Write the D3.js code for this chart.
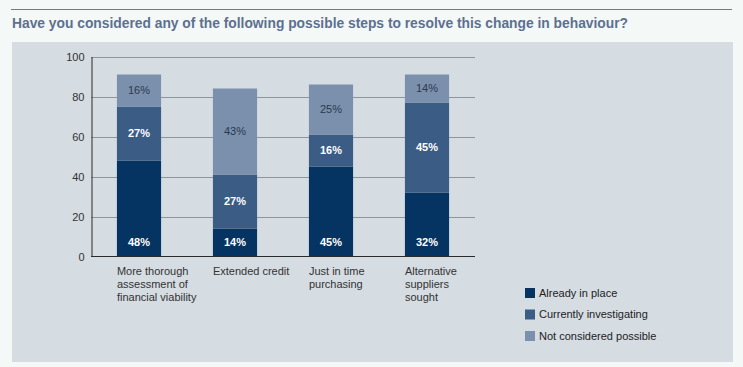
<!DOCTYPE html>
<html><head><meta charset="utf-8">
<script src="https://cdn.jsdelivr.net/npm/d3@7"></script>
<style>
html,body{margin:0;padding:0;background:#f4f8f7;}
svg{display:block;font-family:"Liberation Sans",Arial,sans-serif;}
</style></head>
<body>
<svg id="chart" width="743" height="367"></svg>
<script>
const title = "Have you considered any of the following possible steps to resolve this change in behaviour?";
const categories = [
  ["More thorough","assessment of","financial viability"],
  ["Extended credit"],
  ["Just in time","purchasing"],
  ["Alternative","suppliers","sought"]
];
const seriesNames = ["Already in place","Currently investigating","Not considered possible"];
const alreadyInPlace = [48,14,45,32];
const currentlyInvestigating = [27,27,16,45];
const notConsideredPossible = [16,43,25,14];
const yTicks = [0,20,40,60,80,100];
const colors = ["#063462","#3a5c85","#7b90ad"];
const labelColors = ["#ffffff","#ffffff","#2b3a4e"];

const svg = d3.select("#chart");
// top rule
svg.append("line").attr("x1",11).attr("x2",732).attr("y1",9.5).attr("y2",9.5)
  .attr("stroke","#6f7c8a").attr("stroke-width",1);
// title
const t = svg.append("text").attr("x",12).attr("y",28).attr("fill","#5c7090")
  .attr("font-weight","bold").attr("font-size",14).text(title);
t.attr("textLength",616).attr("lengthAdjust","spacingAndGlyphs");
// panel
svg.append("rect").attr("x",12).attr("y",42).attr("width",721).attr("height",320).attr("fill","#d5dce2");

const x = d3.scaleBand().domain(d3.range(categories.length)).range([91,475]).paddingInner(0.54).paddingOuter(0.27);
const y = d3.scaleLinear().domain([0,100]).range([256.5,56.5]);

// gridlines
const g = svg.append("g");
g.selectAll("line.grid").data(yTicks.filter(d=>d>0)).join("line")
  .attr("x1",91).attr("x2",475).attr("y1",d=>Math.round(y(d))+0.5).attr("y2",d=>Math.round(y(d))+0.5)
  .attr("stroke","#8e959c").attr("stroke-width",1);

// y axis
const yAxis = d3.axisLeft(y).tickValues(yTicks).tickSize(0).tickPadding(7);
const ya = svg.append("g").attr("transform","translate(91.5,0)").call(yAxis);
ya.select(".domain").attr("stroke","#2a2a2a");
ya.selectAll("text").attr("font-size",11).attr("fill","#333").attr("font-family","Liberation Sans, Arial, sans-serif");

// stacks
const data = categories.map((c,i)=>({i, a:alreadyInPlace[i], b:currentlyInvestigating[i], c:notConsideredPossible[i]}));
const stack = d3.stack().keys(["a","b","c"])(data);
const layers = svg.append("g").selectAll("g").data(stack).join("g").attr("fill",(d,k)=>colors[k]);
layers.selectAll("rect").data(d=>d).join("rect")
  .attr("x",d=>x(d.data.i)).attr("width",x.bandwidth())
  .attr("y",d=>y(d[1])).attr("height",d=>y(d[0])-y(d[1]));

// labels
stack.forEach((layer,k)=>{
  svg.append("g").selectAll("text").data(layer).join("text")
    .attr("x",d=>x(d.data.i)+x.bandwidth()/2)
    .attr("y",d=> k===0 ? y(7) : y((d[0]+d[1])/2))
    .attr("dy","0.35em").attr("text-anchor","middle")
    .attr("font-size",11).attr("font-weight",k<2?"bold":"normal")
    .attr("fill",labelColors[k])
    .text(d=>(d[1]-d[0])+"%");
});

// x axis baseline
svg.append("line").attr("x1",91).attr("x2",475).attr("y1",256.5).attr("y2",256.5).attr("stroke","#2a2a2a");

// category labels
const cl = svg.append("g").selectAll("text").data(categories).join("text")
  .attr("x",(d,i)=>x(i)).attr("y",275).attr("font-size",11).attr("fill","#333");
cl.each(function(d){
  d3.select(this).selectAll("tspan").data(d).join("tspan")
    .attr("x",d3.select(this).attr("x")).attr("dy",(v,j)=>j===0?0:13).text(v=>v);
});

// legend
const lg = svg.append("g").selectAll("g").data(seriesNames).join("g")
  .attr("transform",(d,i)=>`translate(525,${288+i*21.5})`);
lg.append("rect").attr("width",10).attr("height",10).attr("fill",(d,i)=>colors[i]);
lg.append("text").attr("x",14).attr("y",5).attr("dy","0.35em").attr("font-size",11).attr("fill","#222").text(d=>d);
</script>
</body></html>
